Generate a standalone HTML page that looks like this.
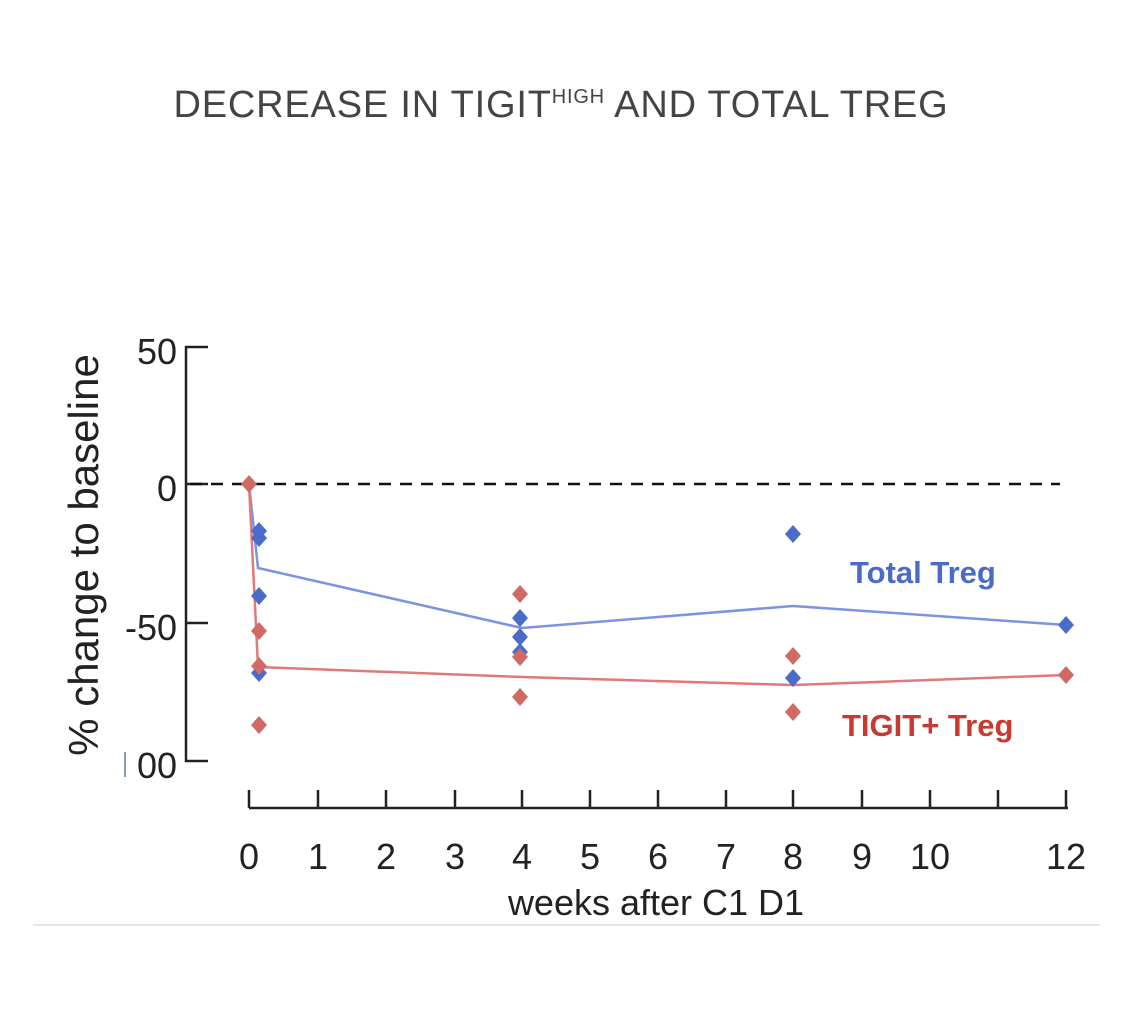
<!DOCTYPE html>
<html><head><style>body{margin:0;background:#fff}</style></head><body>
<svg width="1140" height="1026" xmlns="http://www.w3.org/2000/svg" font-family="Liberation Sans, sans-serif">
<rect width="1140" height="1026" fill="#fff"/>
<text x="561" y="117" text-anchor="middle" font-size="38" fill="#444" letter-spacing="0.8">DECREASE IN TIGIT<tspan font-size="20" dy="-14">HIGH</tspan><tspan dy="14"> AND TOTAL TREG</tspan></text>
<line x1="33" y1="925" x2="1100" y2="925" stroke="#ddd" stroke-width="1.5"/>
<g stroke="#222" stroke-width="2.5" fill="none">
<polyline points="208,347 186,347 186,761 208,761"/>
<line x1="186" y1="484" x2="208" y2="484"/>
<line x1="186" y1="623" x2="208" y2="623"/>
<line x1="249" y1="808" x2="1068" y2="808"/>
</g>
<g stroke="#222" stroke-width="2.5">
<line x1="249" y1="790" x2="249" y2="808"/><line x1="318" y1="790" x2="318" y2="808"/><line x1="386" y1="790" x2="386" y2="808"/><line x1="455" y1="790" x2="455" y2="808"/><line x1="522" y1="790" x2="522" y2="808"/><line x1="590" y1="790" x2="590" y2="808"/><line x1="658" y1="790" x2="658" y2="808"/><line x1="726" y1="790" x2="726" y2="808"/><line x1="793" y1="790" x2="793" y2="808"/><line x1="862" y1="790" x2="862" y2="808"/><line x1="930" y1="790" x2="930" y2="808"/><line x1="998" y1="790" x2="998" y2="808"/><line x1="1066" y1="790" x2="1066" y2="808"/>
</g>
<line x1="190" y1="484" x2="1060" y2="484" stroke="#111" stroke-width="2.5" stroke-dasharray="12,9"/>
<g font-size="36" fill="#222" text-anchor="end">
<text x="177" y="364">50</text><text x="177" y="501">0</text><text x="177" y="640">-50</text><text x="177" y="778">00</text>
</g>
<line x1="125" y1="752" x2="125" y2="777" stroke="#8899cc" stroke-width="2"/>
<g font-size="36" fill="#222" text-anchor="middle">
<text x="249" y="869">0</text><text x="318" y="869">1</text><text x="386" y="869">2</text><text x="455" y="869">3</text><text x="522" y="869">4</text><text x="590" y="869">5</text><text x="658" y="869">6</text><text x="726" y="869">7</text><text x="793" y="869">8</text><text x="862" y="869">9</text><text x="930" y="869">10</text><text x="1066" y="869">12</text>
<text x="656" y="915">weeks after C1 D1</text>
</g>
<text transform="translate(98,555) rotate(-90)" font-size="42" fill="#222" text-anchor="middle">% change to baseline</text>
<polyline points="249,484 258,568 522,628 793,606 1066,625" fill="none" stroke="#7b93e0" stroke-width="2.5"/>
<polyline points="249,484 258,667 522,677 793,685 1066,675" fill="none" stroke="#e07a7a" stroke-width="2.5"/>
<defs>
<path id="d" d="M0,-9 L8,0 L0,9 L-8,0Z"/>
</defs>
<g fill="#4a6cc8">
<use href="#d" x="259" y="531"/><use href="#d" x="259" y="538"/><use href="#d" x="259" y="596"/><use href="#d" x="259" y="673"/>
<use href="#d" x="520" y="618"/><use href="#d" x="520" y="637"/><use href="#d" x="520" y="652"/>
<use href="#d" x="793" y="534"/><use href="#d" x="793" y="678"/><use href="#d" x="1066" y="625"/>
</g>
<g fill="#d06a66">
<use href="#d" x="249" y="484"/><use href="#d" x="259" y="631"/><use href="#d" x="259" y="666"/><use href="#d" x="259" y="725"/>
<use href="#d" x="520" y="594"/><use href="#d" x="520" y="657"/><use href="#d" x="520" y="697"/>
<use href="#d" x="793" y="656"/><use href="#d" x="793" y="712"/><use href="#d" x="1066" y="675"/>
</g>
<text x="850" y="583" font-size="31" font-weight="bold" fill="#4a6cc8">Total Treg</text>
<text x="842" y="736" font-size="31" font-weight="bold" fill="#c83a30">TIGIT+ Treg</text>
</svg>
</body></html>
